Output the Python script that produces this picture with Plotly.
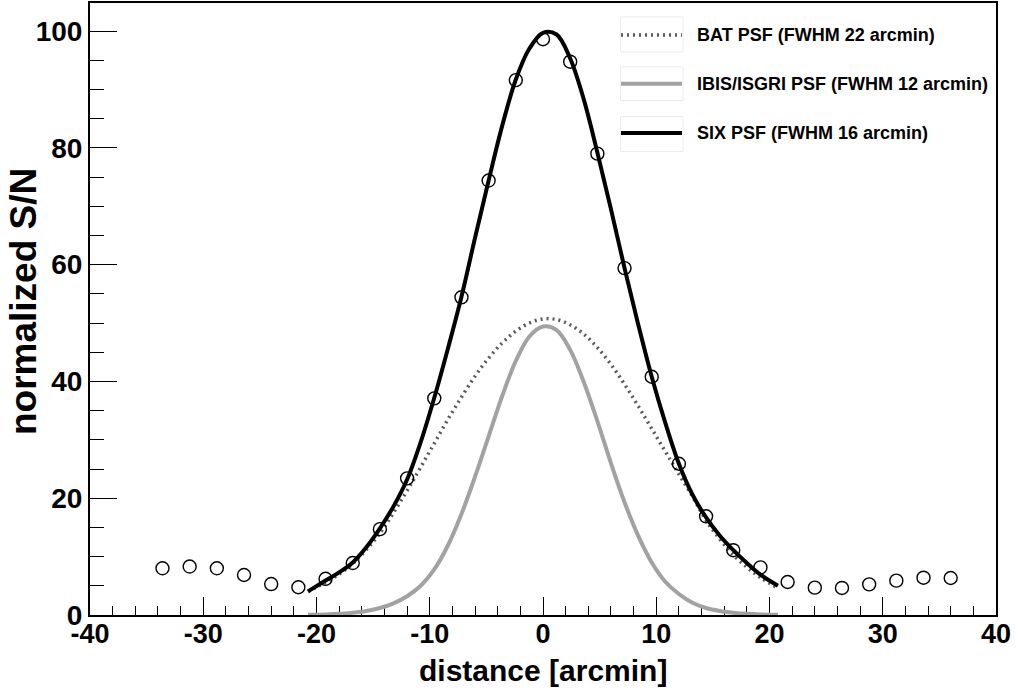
import plotly.graph_objects as go

# ---------------- data ----------------
points_x = [-33.6, -31.2, -28.8, -26.4, -24.0, -21.6, -19.2, -16.8, -14.4, -12.0,
            -9.6, -7.2, -4.8, -2.4, 0.0, 2.4, 4.8, 7.2, 9.6, 12.0,
            14.4, 16.8, 19.2, 21.6, 24.0, 26.4, 28.8, 31.2, 33.6, 36.0]
points_y = [8.0, 8.3, 8.0, 6.85, 5.3, 4.75, 6.2, 8.9, 14.7, 23.4,
            37.1, 54.4, 74.4, 91.6, 98.6, 94.75, 79.0, 59.4, 40.8, 25.9,
            16.9, 11.1, 8.15, 5.65, 4.68, 4.63, 5.25, 5.88, 6.39, 6.34]

curve_x = [-20.75, -19.2, -18.0, -16.8, -15.6, -14.4, -13.2, -12.0, -10.8, -9.6,
           -8.4, -7.2, -6.0, -4.8, -3.6, -2.4, -1.2, 0.0, 1.2, 2.4,
           3.6, 4.8, 6.0, 7.2, 8.4, 9.6, 10.8, 12.0, 13.2, 14.4,
           15.6, 16.8, 18.0, 19.2, 20.75]
six_y = [4.05, 5.9, 7.3, 9.0, 11.6, 14.85, 18.6, 23.2, 29.6, 37.2,
         45.6, 54.5, 64.6, 74.4, 83.8, 91.7, 97.0, 99.7, 99.4, 95.3,
         88.3, 79.2, 69.5, 59.4, 49.8, 40.8, 32.9, 25.9, 20.6, 16.7,
         13.6, 11.1, 8.9, 6.9, 5.0]
bat_y = [4.0, 5.6, 7.0, 8.8, 11.2, 14.0, 17.5, 21.3, 25.3, 29.4,
         33.5, 37.3, 40.9, 44.0, 46.6, 48.6, 50.0, 50.7, 50.6, 49.7,
         48.1, 45.8, 42.9, 39.5, 35.8, 31.9, 28.0, 24.1, 20.3, 16.2,
         13.0, 10.3, 8.2, 6.4, 4.6]
ibis_y = [0.05, 0.1, 0.2, 0.4, 0.7, 1.2, 2.0, 3.2, 5.0, 7.8,
          11.9, 17.3, 23.7, 30.6, 37.5, 43.5, 47.7, 49.4, 48.8, 45.4,
          39.9, 33.2, 26.0, 19.3, 13.6, 9.0, 5.7, 3.6, 2.1, 1.2,
          0.7, 0.4, 0.2, 0.1, 0.05]

legend_labels = ["BAT PSF (FWHM 22 arcmin)",
                 "IBIS/ISGRI PSF (FWHM 12 arcmin)",
                 "SIX PSF (FWHM 16 arcmin)"]

x_ticks = [-40, -30, -20, -10, 0, 10, 20, 30, 40]
y_ticks = [0, 20, 40, 60, 80, 100]

# ---------------- style ----------------
FONT = "Liberation Sans, Arial, Helvetica, sans-serif"
W, H = 1016, 693
ML, MR, MT, MB = 90, 20, 1, 78
BAT_COLOR = "#585858"
IBIS_COLOR = "#a2a2a2"
SIX_COLOR = "#000000"
BAT_DASH = "2px,4px"

fig = go.Figure()
fig.add_trace(go.Scatter(x=curve_x, y=bat_y, mode="lines", name=legend_labels[0],
                         line=dict(color=BAT_COLOR, width=3.5, dash=BAT_DASH, shape="spline"),
                         showlegend=False))
fig.add_trace(go.Scatter(x=curve_x, y=ibis_y, mode="lines", name=legend_labels[1],
                         line=dict(color=IBIS_COLOR, width=4, shape="spline"),
                         showlegend=False))
fig.add_trace(go.Scatter(x=curve_x, y=six_y, mode="lines", name=legend_labels[2],
                         line=dict(color=SIX_COLOR, width=4, shape="spline"),
                         showlegend=False))
fig.add_trace(go.Scatter(x=points_x, y=points_y, mode="markers", name="data",
                         marker=dict(symbol="circle-open", size=13, color="black",
                                     line=dict(width=1.4, color="black")),
                         showlegend=False))

plot_w = W - ML - MR
plot_h = H - MT - MB


def px2paper_x(px):
    return (px - ML) / plot_w


def px2paper_y(py):
    return (H - MB - py) / plot_h


shapes = []
annotations = []
legend_rows = [(15, 50, 33), (65, 99, 82), (115, 150, 131.5)]
styles = [dict(color=BAT_COLOR, width=3.5, dash=BAT_DASH),
          dict(color=IBIS_COLOR, width=4),
          dict(color=SIX_COLOR, width=4)]
for (y0, y1, yc), st, lab in zip(legend_rows, styles, legend_labels):
    shapes.append(dict(type="rect", xref="paper", yref="paper",
                       x0=px2paper_x(620.5), x1=px2paper_x(683),
                       y0=px2paper_y(y1), y1=px2paper_y(y0),
                       line=dict(color="#ececec", width=1)))
    shapes.append(dict(type="line", xref="paper", yref="paper",
                       x0=px2paper_x(621), x1=px2paper_x(682),
                       y0=px2paper_y(yc), y1=px2paper_y(yc), line=st))
    annotations.append(dict(text="<b>%s</b>" % lab, xref="paper", yref="paper",
                            x=px2paper_x(695), y=px2paper_y(yc),
                            xanchor="left", yanchor="middle", showarrow=False,
                            font=dict(family=FONT, size=18, color="black")))

annotations.append(dict(text="<b>distance [arcmin]</b>", xref="paper", yref="paper",
                        x=px2paper_x(543), y=px2paper_y(671), xanchor="center",
                        yanchor="middle", showarrow=False,
                        font=dict(family=FONT, size=30, color="black")))
annotations.append(dict(text="<b>normalized S/N</b>", xref="paper", yref="paper",
                        x=px2paper_x(23), y=px2paper_y(301), xanchor="center",
                        yanchor="middle", showarrow=False, textangle=-90,
                        font=dict(family=FONT, size=37, color="black")))

fig.update_layout(
    width=W, height=H, autosize=False,
    margin=dict(l=ML, r=MR, t=MT, b=MB, pad=0),
    paper_bgcolor="white", plot_bgcolor="white",
    showlegend=False,
    shapes=shapes, annotations=annotations,
    font=dict(family=FONT, color="black"),
)
fig.update_xaxes(range=[-40, 40], tickmode="array", tickvals=x_ticks,
                 ticktext=["<b>%d</b>" % v for v in x_ticks],
                 ticks="inside", ticklen=18, tickwidth=1, tickcolor="black",
                 minor=dict(dtick=2, ticks="inside", ticklen=9, tickwidth=1, tickcolor="black"),
                 showline=True, linewidth=2, linecolor="black", mirror=True,
                 showgrid=False, zeroline=False, layer="below traces",
                 ticklabelstandoff=-6,
                 tickfont=dict(family=FONT, size=27, color="black"))
fig.update_yaxes(range=[0, 104.8], tickmode="array", tickvals=y_ticks,
                 ticktext=["<b>%d</b>" % v for v in y_ticks],
                 ticks="inside", ticklen=27, tickwidth=1, tickcolor="black",
                 minor=dict(dtick=5, ticks="inside", ticklen=14, tickwidth=1, tickcolor="black"),
                 showline=True, linewidth=2, linecolor="black", mirror=True,
                 showgrid=False, zeroline=False, layer="below traces",
                 tickfont=dict(family=FONT, size=28, color="black"))

fig.write_html("out.html")
